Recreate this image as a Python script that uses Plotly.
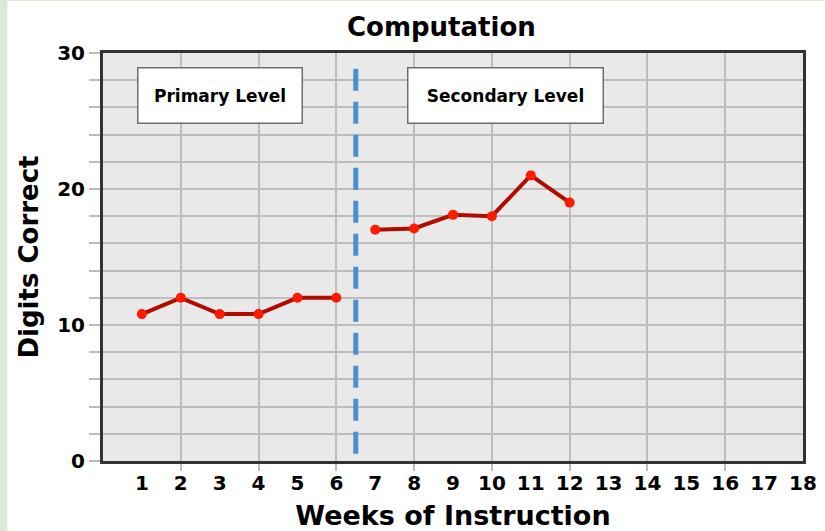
import plotly.graph_objects as go

# --- data ---
WEEKS_PRIMARY = [1, 2, 3, 4, 5, 6]
DIGITS_PRIMARY = [10.8, 12, 10.8, 10.8, 12, 12]

WEEKS_SECONDARY = [7, 8, 9, 10, 11, 12]
DIGITS_SECONDARY = [17, 17.1, 18.1, 18, 21, 19]

PHASE_CHANGE = 6.5  # between primary and secondary level

WEEK_TICKS = list(range(1, 19))
GRID_WEEKS = list(range(2, 17, 2))
Y_TICKS = list(range(0, 31, 2))
Y_TICK_LABELS = [str(v) if v % 10 == 0 else "" for v in Y_TICKS]

FONT = "DejaVu Sans"
GRID = "#bdbdbd"
FRAME = "#333333"
LINE_RED = "#b00c00"
DOT_RED = "#ff1a00"
PHASE_BLUE = "#4a8fd2"
GREEN_EDGE = "#dbe9d5"

fig = go.Figure()

for weeks, digits in [(WEEKS_PRIMARY, DIGITS_PRIMARY), (WEEKS_SECONDARY, DIGITS_SECONDARY)]:
    fig.add_trace(go.Scatter(
        x=weeks, y=digits,
        mode="lines+markers",
        line=dict(color=LINE_RED, width=4),
        marker=dict(color=DOT_RED, size=10),
        showlegend=False,
        hovertemplate="Week %{x}: <b>%{y}</b><extra></extra>",
    ))

# invisible trace so the label axis (x2) gets drawn
fig.add_trace(go.Scatter(
    x=WEEK_TICKS, y=[0] * len(WEEK_TICKS),
    xaxis="x2", mode="none", showlegend=False, hoverinfo="skip",
))

# phase change line
fig.add_shape(
    type="line",
    x0=PHASE_CHANGE, x1=PHASE_CHANGE,
    y0=0.018, y1=0.98, yref="paper",
    line=dict(color=PHASE_BLUE, width=5, dash="22px,11px"),
)

# phase labels
for text, xc, w in [("Primary Level", 3.0, 163), ("Secondary Level", 10.34, 194)]:
    fig.add_annotation(
        x=xc, y=26.86, text=text, showarrow=False,
        width=w, height=54,
        bgcolor="white", bordercolor="#6e6e6e", borderwidth=1.5, borderpad=0,
        font=dict(family=FONT, size=17, color="black", weight="bold"),
    )

# light green page edge (left and top)
fig.add_shape(type="rect", xref="paper", yref="paper",
              x0=-0.2, x1=-0.1366, y0=-0.2, y1=1.2,
              fillcolor=GREEN_EDGE, line_width=0)
fig.add_shape(type="rect", xref="paper", yref="paper",
              x0=-0.2, x1=1.1, y0=1.1277, y1=1.2,
              fillcolor=GREEN_EDGE, line_width=0)

fig.update_layout(
    width=825, height=531,
    margin=dict(l=103, r=22, t=53, b=70),
    paper_bgcolor="white",
    plot_bgcolor="#e9e9e9",
    font=dict(family=FONT, color="black", weight="bold"),
    title=dict(
        text="Computation",
        x=0.535, xanchor="center", y=0.949, yanchor="middle",
        font=dict(family=FONT, size=26, color="black", weight="bold"),
    ),
    xaxis=dict(
        range=[0, 18],
        tickvals=GRID_WEEKS,
        showticklabels=False,
        showgrid=True, gridcolor=GRID, gridwidth=2,
        ticks="outside", ticklen=7, tickwidth=2, tickcolor=GRID,
        showline=True, linecolor=FRAME, linewidth=3, mirror=True,
        zeroline=False, automargin=False,
    ),
    xaxis2=dict(
        overlaying="x", anchor="y", side="bottom",
        range=[0, 18],
        tickvals=WEEK_TICKS,
        showgrid=False, zeroline=False, showline=False,
        ticks="outside", ticklen=4, tickcolor="rgba(0,0,0,0)",
        tickfont=dict(size=20),
        title=dict(text="Weeks of Instruction", standoff=17,
                   font=dict(size=27)),
        automargin=False,
    ),
    yaxis=dict(
        range=[0, 30],
        tickvals=Y_TICKS,
        ticktext=Y_TICK_LABELS,
        tickfont=dict(size=20),
        showgrid=True, gridcolor=GRID, gridwidth=2,
        ticks="outside", ticklen=11, tickwidth=2, tickcolor=GRID,
        showline=True, linecolor=FRAME, linewidth=3, mirror=True,
        zeroline=False, automargin=False,
        title=dict(text="Digits Correct", standoff=12, font=dict(size=26)),
    ),
)

fig.write_html(
    "out.html",
    config={"displayModeBar": False},
    post_script="document.body.style.margin='0';",
)
